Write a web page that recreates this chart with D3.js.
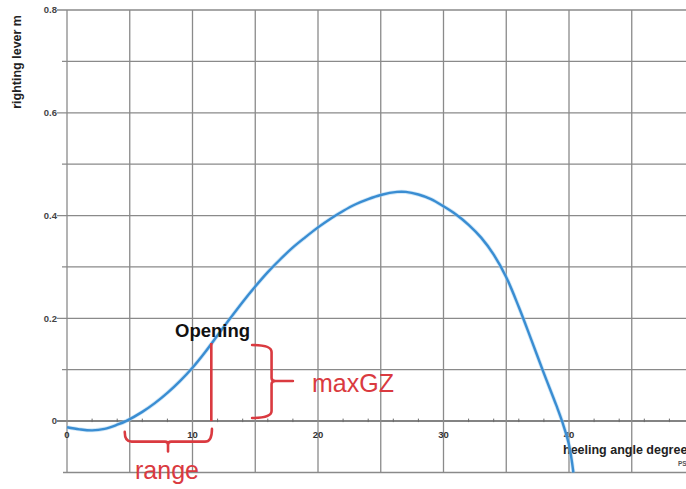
<!DOCTYPE html>
<html>
<head>
<meta charset="utf-8">
<script src="https://cdn.jsdelivr.net/npm/d3@7"></script>
<style>
html,body{margin:0;padding:0;background:#fff;}
svg{display:block;}
text{font-family:"Liberation Sans",Arial,sans-serif;}
</style>
</head>
<body>
<svg id="chart" width="686" height="489"></svg>
<script>
// ---- data ----
const heelAngles = [0, 1, 2, 3, 4, 4.7, 6, 7, 8, 9, 10, 11, 12, 13, 14, 15, 16, 17, 18, 19, 20, 21, 22, 23, 24, 25, 26.3, 27, 28, 29, 30, 31, 32, 33, 34, 35, 36, 37, 38, 39, 39.5, 40, 40.35];
const rightingLever = [-0.012, -0.016, -0.018, -0.015, -0.007, 0, 0.018, 0.035, 0.055, 0.078, 0.104, 0.134, 0.167, 0.2, 0.232, 0.262, 0.29, 0.315, 0.338, 0.358, 0.377, 0.394, 0.409, 0.422, 0.432, 0.44, 0.446, 0.446, 0.441, 0.432, 0.418, 0.402, 0.382, 0.357, 0.324, 0.28, 0.222, 0.158, 0.093, 0.03, -0.004, -0.046, -0.1];
const xTickValues = [0, 10, 20, 30, 40];
const xTickLabels = ["0", "10", "20", "30", "40"];
const yTickValues = [0, 0.2, 0.4, 0.6, 0.8];
const yTickLabels = ["0", "0.2", "0.4", "0.6", "0.8"];
const xGridValues = [0, 5, 10, 15, 20, 25, 30, 35, 40, 45];
const yGridValues = [-0.1, 0, 0.1, 0.2, 0.3, 0.4, 0.5, 0.6, 0.7, 0.8];
const xMinorTicks = [2, 4, 6, 8, 12, 14, 16, 18, 22, 24, 26, 28, 32, 34, 36, 38, 42, 44, 46, 48];
const yAxisTitle = "righting lever m";
const xAxisTitle = "heeling angle degrees";
const openingLabel = "Opening";
const openingAngle = 11.5;
const openingLever = 0.152;
const maxGZLabel = "maxGZ";
const rangeLabel = "range";
// brace extents in data units
const maxGZBrace = {x0: 14.75, x1: 16.3, tip: 18.0, yTop: 0.148, yMid: 0.078, yBot: 0.006};
const rangeBrace = {x0: 4.6, x1: 11.55, mid: 8.05, yTop: -0.021, yLine: -0.04, yTip: -0.059};

// ---- scales ----
const svg = d3.select("#chart");
const x = d3.scaleLinear().domain([0, 50]).range([67, 67 + 50 * 12.55]);
const y = d3.scaleLinear().domain([-0.1, 0.8]).range([472.5, 10]);

const grid = svg.append("g");
// horizontal grid
grid.selectAll("line.h").data(yGridValues).enter().append("line")
  .attr("x1", d => yTickValues.some(v => Math.abs(v - d) < 1e-9) ? 57 : (d === -0.1 ? 63 : 62))
  .attr("x2", 686)
  .attr("y1", d => y(d)).attr("y2", d => y(d))
  .attr("stroke", d => d === 0 ? "#5a5a5a" : "#8a8a8a")
  .attr("stroke-width", d => d === 0 ? 1.5 : 1.3);
// vertical grid
grid.selectAll("line.v").data(xGridValues).enter().append("line")
  .attr("x1", d => x(d)).attr("x2", d => x(d))
  .attr("y1", y(0.8)).attr("y2", y(-0.1))
  .attr("stroke", "#8a8a8a").attr("stroke-width", 1.3);
// minor ticks on the zero line
grid.selectAll("line.m").data(xMinorTicks).enter().append("line")
  .attr("x1", d => x(d)).attr("x2", d => x(d))
  .attr("y1", y(0) - 2.5).attr("y2", y(0) + 1)
  .attr("stroke", "#6a6a6a").attr("stroke-width", 1);

// y tick labels
svg.append("g").selectAll("text").data(yTickValues).enter().append("text")
  .attr("x", 57).attr("y", d => y(d)).attr("dy", "0.35em")
  .attr("text-anchor", "end")
  .attr("font-size", 9.5).attr("font-weight", "bold").attr("fill", "#444")
  .text((d, i) => yTickLabels[i]);
// x tick labels
svg.append("g").selectAll("text").data(xTickValues).enter().append("text")
  .attr("x", d => x(d)).attr("y", y(0) + 17)
  .attr("text-anchor", "middle")
  .attr("font-size", 9.5).attr("font-weight", "bold").attr("fill", "#333")
  .text((d, i) => xTickLabels[i]);

// axis titles
svg.append("text")
  .attr("transform", "translate(21,15) rotate(-90)")
  .attr("text-anchor", "end")
  .attr("font-size", 12.5).attr("font-weight", "bold").attr("fill", "#222")
  .text(yAxisTitle);
svg.append("text")
  .attr("x", 563).attr("y", 454)
  .attr("font-size", 12.5).attr("font-weight", "bold").attr("fill", "#222")
  .text(xAxisTitle);
svg.append("text")
  .attr("x", 678).attr("y", 466)
  .attr("font-size", 6.5).attr("font-weight", "bold").attr("fill", "#555")
  .text("PS");

// curve
const line = d3.line()
  .x((d, i) => x(heelAngles[i]))
  .y(d => y(d))
  .curve(d3.curveCatmullRom.alpha(0.5));
svg.append("path")
  .datum(rightingLever)
  .attr("d", line)
  .attr("fill", "none")
  .attr("stroke", "#9fd0f2").attr("stroke-width", 4).attr("stroke-opacity", 0.5);
svg.append("path")
  .datum(rightingLever)
  .attr("d", line)
  .attr("fill", "none")
  .attr("stroke", "#3a8dd2").attr("stroke-width", 2.4);

// annotations
const red = "#da3a40";
svg.append("text")
  .attr("x", 175).attr("y", 337)
  .attr("font-size", 18.5).attr("font-weight", "bold").attr("fill", "#111")
  .text(openingLabel);
svg.append("line")
  .attr("x1", x(openingAngle)).attr("x2", x(openingAngle))
  .attr("y1", y(openingLever)).attr("y2", y(0))
  .attr("stroke", red).attr("stroke-width", 2.6);

// maxGZ brace
{
  const b = maxGZBrace;
  const X0 = x(b.x0), X1 = x(b.x1), XT = x(b.tip);
  const YT = y(b.yTop), YM = y(b.yMid), YB = y(b.yBot);
  const p = d3.path();
  p.moveTo(X0, YT);
  p.quadraticCurveTo(X1, YT, X1, YT + 7);
  p.lineTo(X1, YM - 3);
  p.quadraticCurveTo(X1, YM, X1 + 4, YM);
  p.lineTo(XT, YM);
  p.moveTo(X1 + 4, YM);
  p.quadraticCurveTo(X1, YM, X1, YM + 3);
  p.lineTo(X1, YB - 7);
  p.quadraticCurveTo(X1, YB, X0, YB);
  svg.append("path").attr("d", p.toString())
    .attr("fill", "none").attr("stroke", red).attr("stroke-width", 2.6)
    .attr("stroke-linecap", "round");
  svg.append("text")
    .attr("x", 312).attr("y", 392)
    .attr("font-size", 25).attr("fill", red)
    .text(maxGZLabel);
}

// range brace
{
  const b = rangeBrace;
  const X0 = x(b.x0), X1 = x(b.x1), XM = x(b.mid);
  const YT = y(b.yTop), YL = y(b.yLine), YP = y(b.yTip);
  const p = d3.path();
  p.moveTo(X0, YT);
  p.quadraticCurveTo(X0, YL, X0 + 7, YL);
  p.lineTo(XM - 3, YL);
  p.quadraticCurveTo(XM, YL, XM, YL + 3);
  p.lineTo(XM, YP);
  p.moveTo(XM, YL + 3);
  p.quadraticCurveTo(XM, YL, XM + 3, YL);
  p.lineTo(X1 - 7, YL);
  p.quadraticCurveTo(X1, YL, X1, YT - 3);
  svg.append("path").attr("d", p.toString())
    .attr("fill", "none").attr("stroke", red).attr("stroke-width", 2.6)
    .attr("stroke-linecap", "round");
  svg.append("text")
    .attr("x", 135).attr("y", 479)
    .attr("font-size", 25).attr("fill", red)
    .text(rangeLabel);
}
</script>
</body>
</html>
